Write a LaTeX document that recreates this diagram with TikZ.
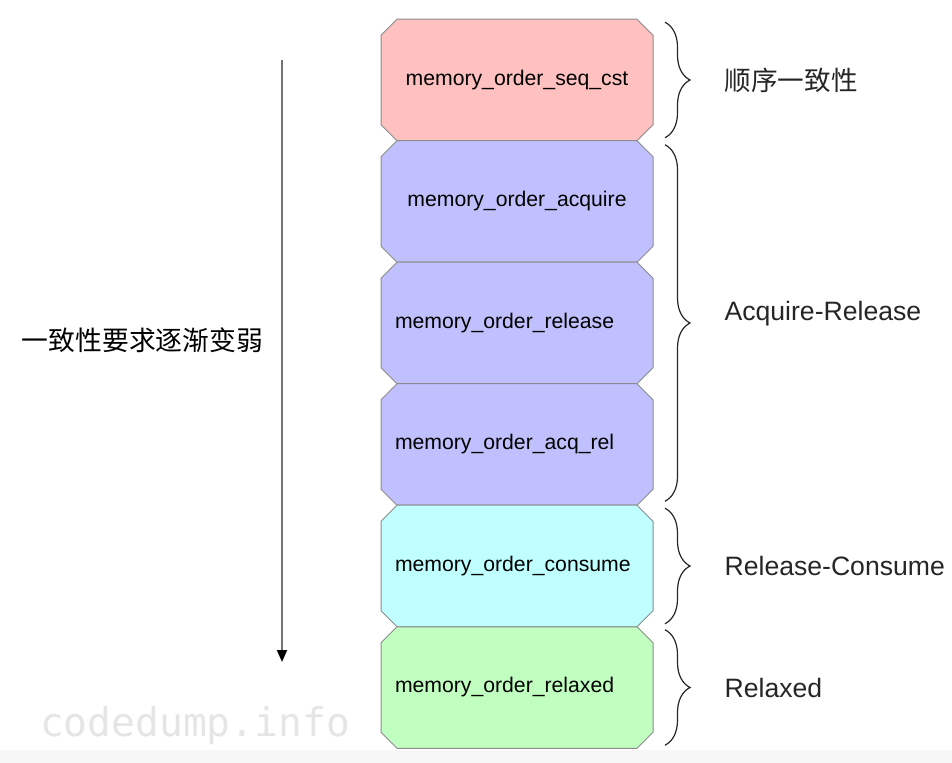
\documentclass[tikz,border=0pt]{standalone}
\usepackage{fontspec}
\setmainfont{Liberation Sans}
\setmonofont{DejaVu Sans Mono}
\newfontfamily\cjk{Noto Sans CJK SC}
\usepackage{tikz}
\usepackage{xcolor}
\usetikzlibrary{positioning,calc,shapes.misc,arrows.meta,decorations.pathreplacing}

\definecolor{seqpink}{HTML}{FFC0C0}
\definecolor{arpurple}{HTML}{C0C0FF}
\definecolor{rccyan}{HTML}{C0FFFF}
\definecolor{rxgreen}{HTML}{C0FFC0}
\definecolor{edgegray}{HTML}{8C8C8C}

\tikzset{
    order/.style={chamfered rectangle, chamfered rectangle xsep=4pt,
        chamfered rectangle ysep=4pt, draw=edgegray, line width=0.5pt,
        minimum width=128pt, minimum height=60.75pt, inner xsep=3pt,
        outer sep=0pt, text width=122pt, align=left,
        font=\fontsize{10.6}{12}\selectfont},
    curly/.style={decorate, decoration={brace, amplitude=12.5pt},
        line width=0.6pt, black!85},
    tag/.style={midway, anchor=west, xshift=29.5pt, inner sep=0pt,
        font=\fontsize{13.3}{15}\selectfont}
}

\begin{document}
\begin{tikzpicture}[x=0.5pt, y=-0.5pt]
    \useasboundingbox (0,0) rectangle (952,763);
    \fill[black!3] (0,750) rectangle (952,763);

    % the six orders, strongest on top
    \node[order, fill=seqpink, align=center] (seq) at (517,80) {memory\_order\_seq\_cst};
    \node[order, fill=arpurple, align=center, below=0pt of seq] (acq) {memory\_order\_acquire};
    \node[order, fill=arpurple, below=0pt of acq] (rel) {memory\_order\_release};
    \node[order, fill=arpurple, below=0pt of rel] (acqrel) {memory\_order\_acq\_rel};
    \node[order, fill=rccyan, below=0pt of acqrel] (con) {memory\_order\_consume};
    \node[order, fill=rxgreen, below=0pt of con] (rlx) {memory\_order\_relaxed};

    % groups
    \draw[curly] ($(seq.north -| seq.east)+(6pt,-1.5pt)$) --
        node[tag]{\cjk 顺序一致性} ($(seq.south -| seq.east)+(6pt,1.5pt)$);
    \draw[curly] ($(acq.north -| acq.east)+(6pt,-2pt)$) --
        node[tag, yshift=4.5pt]{Acquire-Release} ($(acqrel.south -| acqrel.east)+(6pt,2pt)$);
    \draw[curly] ($(con.north -| con.east)+(6pt,-1.5pt)$) --
        node[tag]{Release-Consume} ($(con.south -| con.east)+(6pt,1.5pt)$);
    \draw[curly] ($(rlx.north -| rlx.east)+(6pt,-1.5pt)$) --
        node[tag]{Relaxed} ($(rlx.south -| rlx.east)+(6pt,1.5pt)$);

    % weaker downwards
    \coordinate (top) at (282,60);
    \coordinate (bot) at (282,662);
    \draw[black!55, line width=1pt,
        -{Triangle[width=5pt,length=6pt,color=black]}] (top) -- (bot);
    \node[font=\cjk\fontsize{13.4}{15}\selectfont] (weaker) at (142.5,340)
        {一致性要求逐渐变弱};

    \node[font=\ttfamily\fontsize{19.8}{22}\selectfont, black!10] (mark)
        at (195,726) {codedump.info};
\end{tikzpicture}
\end{document}
